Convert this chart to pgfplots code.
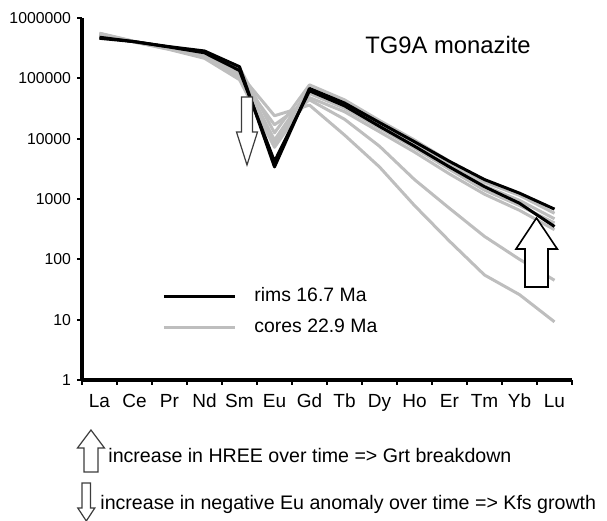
\documentclass[border=0pt]{standalone}
\usepackage{pgfplots}
\pgfplotsset{compat=1.18}
\usepackage{fontspec}
\setmainfont{Liberation Sans}
\definecolor{coregray}{RGB}{190,190,190}
\definecolor{arrowgray}{RGB}{60,60,60}
\begin{document}
\begin{tikzpicture}
\begin{axis}[
  at={(0,0)}, anchor=south west,
  scale only axis, width=245pt, height=181pt,
  ymode=log, ymin=1, ymax=1000000,
  xmin=-0.5, xmax=13.5,
  axis x line*=bottom, axis y line*=left,
  axis line style={line width=1.6pt, black},
  tick align=outside,
  major tick length=2.3pt,
  tick style={line width=1pt, black},
  ytick={1,10,100,1000,10000,100000,1000000},
  yticklabels={1,10,100,1000,10000,100000,1000000},
  yminorticks=false,
  yticklabel style={anchor=east, inner sep=0pt, xshift=-3pt, font=\fontsize{7.9pt}{9pt}\selectfont},
  xtick={-0.5,0.5,...,13.5},
  xticklabels={},
  extra x ticks={0,1,...,13},
  extra x tick labels={La,Ce,Pr,Nd,Sm,Eu,Gd,Tb,Dy,Ho,Er,Tm,Yb,Lu},
  extra x tick style={major tick length=0pt},
  xticklabel style={anchor=base, inner sep=0pt, yshift=-13.5pt, font=\fontsize{9.5pt}{11pt}\selectfont},
  clip=false,
  legend style={at={(rel axis cs:0.163,0.257)}, anchor=north west, draw=none, fill=none,
    inner sep=0pt, row sep=6.5pt, font=\fontsize{9.7pt}{11pt}\selectfont,
    nodes={inner sep=0pt, text height=7pt, text depth=2pt}, cells={anchor=west},
    /tikz/every odd column/.style={column sep=9pt}},
  legend image code/.code={\draw[#1] (0pt,0pt) -- (35.5pt,0pt);},
]
\addlegendimage{black, line width=1.6pt}
\addlegendentry{rims 16.7 Ma}
\addlegendimage{coregray, line width=1.6pt}
\addlegendentry{cores 22.9 Ma}

\pgfplotsset{every axis plot/.append style={line width=1.5pt, line join=round, forget plot}}
% cores
\addplot[coregray] coordinates {(0,560000)(1,410000)(2,325000)(3,250000)(4,150000)(5,12500)(6,78000)(7,44000)(8,20000)(9,9500)(10,4200)(11,1900)(12,1150)(13,580)};
\addplot[coregray] coordinates {(0,540000)(1,405000)(2,315000)(3,235000)(4,125000)(5,9500)(6,66000)(7,37000)(8,17500)(9,8200)(10,3700)(11,1650)(12,950)(13,470)};
\addplot[coregray] coordinates {(0,520000)(1,400000)(2,305000)(3,225000)(4,110000)(5,8200)(6,56000)(7,32000)(8,15000)(9,7000)(10,3100)(11,1400)(12,780)(13,400)};
\addplot[coregray] coordinates {(0,550000)(1,400000)(2,300000)(3,215000)(4,95000)(5,7200)(6,48000)(7,28000)(8,13000)(9,6000)(10,2600)(11,1200)(12,650)(13,310)};
\addplot[coregray] coordinates {(0,530000)(1,400000)(2,310000)(3,230000)(4,105000)(5,17000)(6,44000)(7,21000)(8,7500)(9,2100)(10,700)(11,240)(12,100)(13,45)};
\addplot[coregray] coordinates {(0,555000)(1,405000)(2,320000)(3,245000)(4,120000)(5,24000)(6,36000)(7,11500)(8,3400)(9,780)(10,200)(11,55)(12,26)(13,9.2)};
% rims
\addplot[black] coordinates {(0,480000)(1,405000)(2,330000)(3,265000)(4,135000)(5,4200)(6,62000)(7,35000)(8,16000)(9,7500)(10,3400)(11,1600)(12,850)(13,350)};
\addplot[black] coordinates {(0,461000)(1,405000)(2,335000)(3,284000)(4,156000)(5,3400)(6,68000)(7,39000)(8,18500)(9,8900)(10,4200)(11,2100)(12,1250)(13,680)};
\end{axis}
\begin{scope}[x=0.5pt, y=-0.5pt, shift={(-41pt,190pt)}]
  % title
  \node[anchor=west, inner sep=0pt, font=\fontsize{11.9pt}{14pt}\selectfont] at (365,45) {TG9A monazite};
  % down arrow in plot
  \draw[arrowgray, line width=0.6pt, fill=white] (241.5,97) -- (252.5,97) -- (252.5,132) -- (257.5,132) -- (247,165) -- (236.5,132) -- (241.5,132) -- cycle;
  % up arrow in plot
  \draw[black, line width=0.8pt, fill=white] (525,287) -- (548,287) -- (548,249) -- (557.3,249) -- (536.5,218) -- (516,249) -- (525,249) -- cycle;
  % bottom legend arrows
  \draw[arrowgray, line width=0.6pt, fill=white] (84,472) -- (98,472) -- (98,448) -- (104.5,448) -- (91,430) -- (77.5,448) -- (84,448) -- cycle;
  \draw[arrowgray, line width=0.6pt, fill=white] (82,483) -- (90.6,483) -- (90.6,508) -- (94.8,508) -- (86.3,521) -- (77.8,508) -- (82,508) -- cycle;
  \node[anchor=mid west, inner sep=0pt, font=\fontsize{9.8pt}{12pt}\selectfont] at (108,457) {increase in HREE over time => Grt breakdown};
  \node[anchor=mid west, inner sep=0pt, font=\fontsize{9.8pt}{12pt}\selectfont] at (100,504) {increase in negative Eu anomaly over time => Kfs growth};
\end{scope}
\pgfresetboundingbox
\path[use as bounding box] (-41pt,-70.5pt) rectangle (262.5pt,190pt);
\end{tikzpicture}
\end{document}
